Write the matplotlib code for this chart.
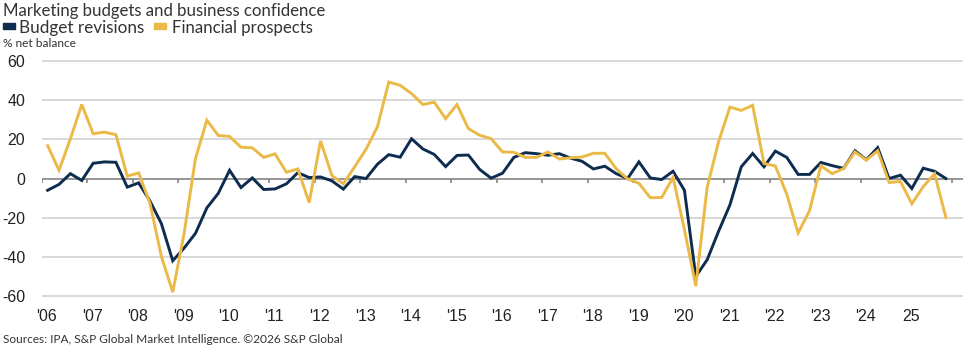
import numpy as np
import matplotlib.pyplot as plt
from matplotlib.patches import Rectangle

# quarterly net balances, 2006 Q1 - 2025 Q4
budget = [
    -6, -3, 2.5, -1, 7.8, 8.5, 8.3, -4.4,
    -2.2, -11.5, -23, -42, -35.5, -28, -15, -7.6,
    4.2, -4.6, 0.3, -5.6, -5.3, -2.7, 3, 0.5,
    0.8, -1.2, -5.4, 1, 0, 7.3, 12.2, 10.9,
    20.3, 15.1, 12.3, 6.1, 11.8, 12, 4.6, 0.2,
    2.7, 10.8, 13.2, 12.7, 11.9, 12.7, 10.4, 8.8,
    4.9, 6.3, 2.5, 0, 8.5, 0.3, -0.5, 3.7,
    -6, -50, -41.5, -27, -13.5, 6, 12.8, 6,
    14, 10.8, 2.1, 2.1, 8.2, 6.6, 5.2, 14.2,
    9.6, 15.8, 0, 1.7, -5.1, 5.3, 3.7, 0,
]
prospects = [
    16.8, 4.2, 20.3, 37.8, 22.9, 23.7, 22.4, 1.2,
    2.9, -12.7, -39.8, -58, -28, 10.2, 29.8, 22,
    21.5, 16, 15.7, 10.8, 12.6, 3.2, 4.9, -12.3,
    19.2, 1.5, -2.7, 6, 15, 26.4, 49.3, 47.6,
    43.4, 37.8, 39, 30.6, 37.8, 25.5, 22.1, 20.4,
    13.6, 13.4, 10.8, 10.8, 13.6, 10, 10.6, 11,
    12.9, 12.9, 5, -0.2, -2.4, -9.8, -9.7, 0.6,
    -26, -55, -4.5, 18.7, 36.5, 34.8, 37.4, 7.7,
    6.4, -8, -27.8, -16.5, 6.5, 2.5, 5.1, 13.6,
    9.4, 14.2, -2, -1.5, -12.9, -4.2, 2.4, -20,
]
years = np.arange(2006, 2027)
year_labels = ["'06", "'07", "'08", "'09", "'10", "'11", "'12", "'13", "'14", "'15",
               "'16", "'17", "'18", "'19", "'20", "'21", "'22", "'23", "'24", "25"]
y_ticks = [60, 40, 20, 0, -20, -40, -60]

navy = '#0e2c4f'
gold = '#ebb947'

# mid-quarter positions
t = 2006 + (np.arange(len(budget)) + 0.5) / 4

fig = plt.figure(figsize=(9.74, 3.46), dpi=100)
ax = fig.add_axes([0.0431, 0.136, 0.9456, 0.696])

for v in y_ticks:
    if v != 0:
        ax.axhline(v, color='#d8d8d8', lw=1.4, zorder=0)
ax.axhline(0, color='#7a7a7a', lw=1.1, zorder=1)
ax.vlines(years, -2.2, 0, color='#7a7a7a', lw=1.1, zorder=1)

ax.plot(t, budget, color=navy, lw=2.1, zorder=3, solid_joinstyle='miter')
ax.plot(t, prospects, color=gold, lw=2.1, zorder=4, solid_joinstyle='miter')

ax.set_xlim(2006.0, 2026.25)
ax.set_ylim(-61.5, 61.5)
for s in ax.spines.values():
    s.set_visible(False)

ax.set_yticks(y_ticks)
ax.set_yticklabels([str(v) for v in y_ticks], family='Liberation Sans', fontsize=11.5, color='#222222')
ax.set_xticks(years[:-1] + 0.11)
ax.set_xticklabels(year_labels, family='Liberation Sans', fontsize=11.5, color='#222222')
ax.tick_params(axis='both', length=0)
ax.tick_params(axis='y', pad=12)
ax.tick_params(axis='x', pad=7)

# header, legend swatches and notes
fig.text(0.0028, 0.9538, 'Marketing budgets and business confidence', family='Lato',
         fontsize=12.1, color='#333333', va='baseline')
fig.patches.append(Rectangle((0.0028, 0.9153), 0.0126, 0.019, color=navy,
                             transform=fig.transFigure, figure=fig))
fig.text(0.0195, 0.9046, 'Budget revisions', family='Lato', fontsize=12.3,
         color='#333333', va='baseline')
fig.patches.append(Rectangle((0.1581, 0.9153), 0.0120, 0.019, color=gold,
                             transform=fig.transFigure, figure=fig))
fig.text(0.1763, 0.9046, 'Financial prospects', family='Lato', fontsize=12.1,
         color='#333333', va='baseline')
fig.text(0.0034, 0.8656, '% net balance', family='Lato', fontsize=8.6,
         color='#333333', va='baseline')
fig.text(0.0028, 0.008, 'Sources: IPA, S&P Global Market Intelligence. ©2026 S&P Global',
         family='Lato', fontsize=8.6, color='#333333', va='baseline')

fig.savefig('out.png', dpi=100)
